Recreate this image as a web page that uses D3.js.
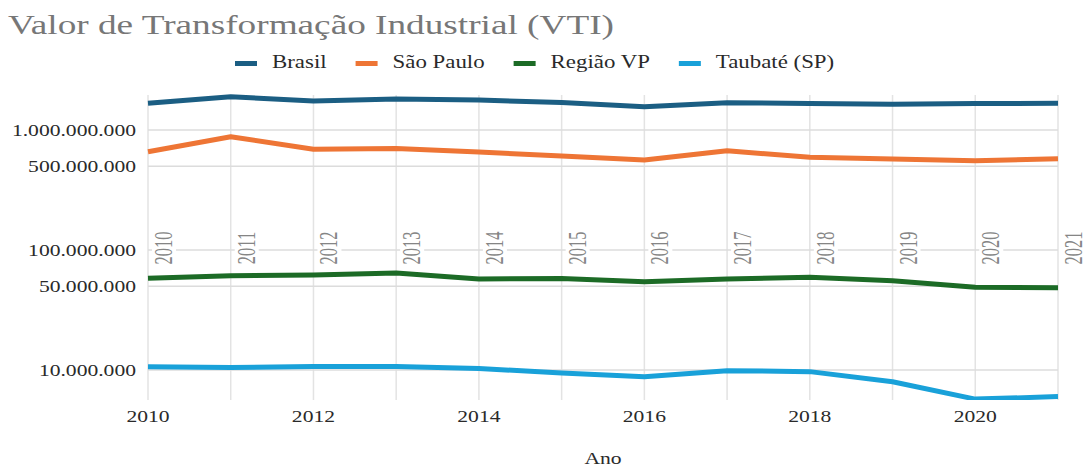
<!DOCTYPE html>
<html><head><meta charset="utf-8">
<script src="https://cdn.jsdelivr.net/npm/d3@7"></script>
<style>body{margin:0;background:#fff}</style></head>
<body>
<svg id="c" width="1091" height="467"></svg>
<script>
const years = [2010,2011,2012,2013,2014,2015,2016,2017,2018,2019,2020,2021];
const brasil   = [1.669e9,1.895e9,1.744e9,1.81e9,1.778e9,1.695e9,1.563e9,1.689e9,1.663e9,1.637e9,1.663e9,1.669e9];
const saoPaulo = [659e6,880e6,690e6,700e6,656e6,607e6,562e6,672e6,592e6,573e6,554e6,576e6];
const regiaoVP = [58.1e6,61.1e6,61.9e6,64.3e6,57.3e6,57.8e6,54.4e6,57.3e6,59.2e6,55.5e6,48.9e6,48.5e6];
const taubate  = [10.65e6,10.5e6,10.7e6,10.7e6,10.3e6,9.44e6,8.8e6,9.87e6,9.69e6,7.99e6,5.72e6,6.0e6];
const seriesNames = ["Brasil","São Paulo","Região VP","Taubaté (SP)"];
const seriesColors = ["#1b5e83","#ee7535","#1c6b26","#19a1d9"];
const yTicks = [1e7,5e7,1e8,5e8,1e9];
const xTicks = [2010,2012,2014,2016,2018,2020];
const title = "Valor de Transformação Industrial (VTI)";
const xTitle = "Ano";

const SX = 1.27;
const FONT = "'Liberation Serif','Times New Roman',serif";
const svg = d3.select("#c");
const M = {l:148, r:1058, t:95, b:400};
const x = d3.scaleLinear().domain([2010,2021]).range([M.l,M.r]);
const y = d3.scaleLog().domain([Math.pow(10,6.75), Math.pow(10,9.2917)]).range([M.b,M.t]);
const fmt = d3.formatLocale({decimal:",",thousands:".",grouping:[3],currency:["",""]}).format(",");

function txt(g, px, py, s, o={}) {
  const t = g.append("text")
    .attr("transform", `translate(${px},${py}) scale(${o.sx||SX},1)` + (o.rot?` rotate(${o.rot})`:""))
    .attr("font-family", FONT).attr("font-size", o.size||17)
    .attr("fill", o.fill||"#2a2a2a").attr("text-anchor", o.anchor||"start")
    .text(s);
  return t;
}

// title
txt(svg, 8, 34, title, {size:27, fill:"#777", sx:1.38});

// gridlines
const grid = svg.append("g");
grid.selectAll("line.v").data(years).join("line")
  .attr("x1",d=>x(d)).attr("x2",d=>x(d)).attr("y1",M.t).attr("y2",M.b)
  .attr("stroke","#e3e3e3").attr("stroke-width",1.5);
grid.selectAll("line.h").data(yTicks).join("line")
  .attr("x1",M.l).attr("x2",M.r).attr("y1",d=>y(d)).attr("y2",d=>y(d))
  .attr("stroke","#dcdcdc").attr("stroke-width",1.5);

// y tick labels
yTicks.forEach(v => txt(svg, 136, y(v)+6, fmt(v), {anchor:"end"}));
// x tick labels
xTicks.forEach(v => txt(svg, x(v), 422, String(v), {anchor:"middle"}));
txt(svg, (M.l+M.r)/2, 464, xTitle, {anchor:"middle"});

// rotated year annotations
const ann = svg.append("g");
years.forEach(yr => {
  const cx = x(yr) + 16;
  ann.append("rect").attr("x", cx-12).attr("y", y(1e8)-19).attr("width",24).attr("height",38).attr("fill","#fff");
  txt(ann, cx+8, y(1e8)-2, String(yr), {size:16.5, fill:"#858585", anchor:"middle", rot:-90, sx:1.5});
});

// lines
svg.append("clipPath").attr("id","clip").append("rect")
  .attr("x",M.l-5).attr("y",M.t-10).attr("width",M.r-M.l+5).attr("height",M.b-M.t+10);
const line = d3.line().x((d,i)=>x(years[i])).y(d=>y(d));
const all = [brasil, saoPaulo, regiaoVP, taubate];
svg.append("g").attr("clip-path","url(#clip)").selectAll("path").data(all).join("path")
  .attr("d", d=>line(d)).attr("fill","none")
  .attr("stroke",(d,i)=>seriesColors[i]).attr("stroke-width",5)
  .attr("stroke-linejoin","round");

// legend
let lx = 235;
seriesNames.forEach((n,i) => {
  svg.append("rect").attr("x",lx).attr("y",61).attr("width",22).attr("height",5).attr("fill",seriesColors[i]);
  const t = txt(svg, lx+37, 68, n, {size:18});
  const w = t.node().getComputedTextLength()*SX;
  lx = lx + 37 + w + 29;
});
</script>
</body></html>
